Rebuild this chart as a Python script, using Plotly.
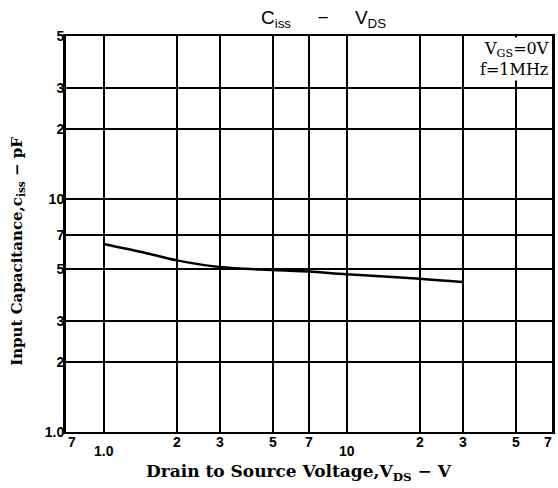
import plotly.graph_objects as go
import math

# Data
vds = [1.0, 1.5, 2.0, 3.0, 5.0, 7.0, 10.0, 20.0, 30.0]
ciss = [6.4, 5.85, 5.45, 5.1, 4.95, 4.88, 4.75, 4.55, 4.4]

# Tick labels
x_tickvals = [0.7, 1.0, 2, 3, 5, 7, 10, 20, 30, 50, 70]
x_ticktext = ["7", "1.0", "2", "3", "5", "7", "10", "2", "3", "5", "7"]
x_ticklow = [False, True, False, False, False, False, True, False, False, False, False]
y_tickvals = [1.0, 2, 3, 5, 7, 10, 20, 30, 50]
y_ticktext = ["1.0", "2", "3", "5", "7", "10", "2", "3", "5"]

serif = "DejaVu Serif, Liberation Serif, serif"
sans = "Liberation Sans, Arial, sans-serif"

fig = go.Figure()
fig.add_trace(go.Scatter(x=vds, y=ciss, mode="lines",
                         line=dict(color="black", width=2.5, shape="spline"),
                         showlegend=False, hoverinfo="skip"))

annotations = []
for v, t, low in zip(x_tickvals, x_ticktext, x_ticklow):
    annotations.append(dict(x=math.log10(v), y=0, xref="x", yref="paper",
                            text="<b>%s</b>" % t, showarrow=False,
                            xanchor="center" if v != 0.7 else "left",
                            yanchor="top", yshift=-9 if low else 0,
                            xshift=0 if v != 70 else -4,
                            font=dict(family=sans, size=14, color="black")))
annotations.append(dict(x=0.997, y=0.997, xref="paper", yref="paper",
                        text="V<sub>GS</sub>=0V<br>f=1MHz", showarrow=False,
                        xanchor="right", yanchor="top", align="right",
                        bgcolor="white", borderpad=1,
                        font=dict(family=serif, size=16, color="black")))
annotations.append(dict(x=0.53, y=1.0, xref="paper", yref="paper",
                        text="C<sub>iss</sub>     −     V<sub>DS</sub>", showarrow=False,
                        xanchor="center", yanchor="bottom", yshift=3,
                        font=dict(family=sans, size=19, color="black")))
# axis titles
annotations.append(dict(x=0.48, y=0, xref="paper", yref="paper",
                        text="<b>Drain to Source Voltage,V<sub>DS</sub> − V</b>",
                        showarrow=False, xanchor="center", yanchor="top", yshift=-27,
                        font=dict(family=serif, size=17, color="black")))
annotations.append(dict(x=0, y=0.455, xref="paper", yref="paper",
                        text="<b>Input Capacitance,c<sub>iss</sub> − pF</b>",
                        showarrow=False, xanchor="center", yanchor="middle",
                        textangle=-90, xshift=-48,
                        font=dict(family=serif, size=15, color="black")))

fig.update_layout(
    width=558, height=488,
    margin=dict(l=66, r=3, t=36, b=56),
    paper_bgcolor="white", plot_bgcolor="white",
    annotations=annotations,
    xaxis=dict(type="log", range=[math.log10(0.7), math.log10(70)],
               tickvals=x_tickvals, showticklabels=False,
               showgrid=True, gridcolor="black", gridwidth=2,
               showline=True, linecolor="black", linewidth=2, mirror=True,
               ticks="", zeroline=False),
    yaxis=dict(type="log", range=[0, math.log10(50)],
               tickvals=y_tickvals, ticktext=["<b>%s</b>" % t for t in y_ticktext],
               tickfont=dict(family=sans, size=14, color="black"),
               ticklabelstandoff=-4,
               showgrid=True, gridcolor="black", gridwidth=2,
               showline=True, linecolor="black", linewidth=3, mirror=True,
               ticks="", zeroline=False),
)

fig.write_html("out.html", config={"displayModeBar": False},
               post_script="document.body.style.margin='0';document.body.style.overflow='hidden';")
